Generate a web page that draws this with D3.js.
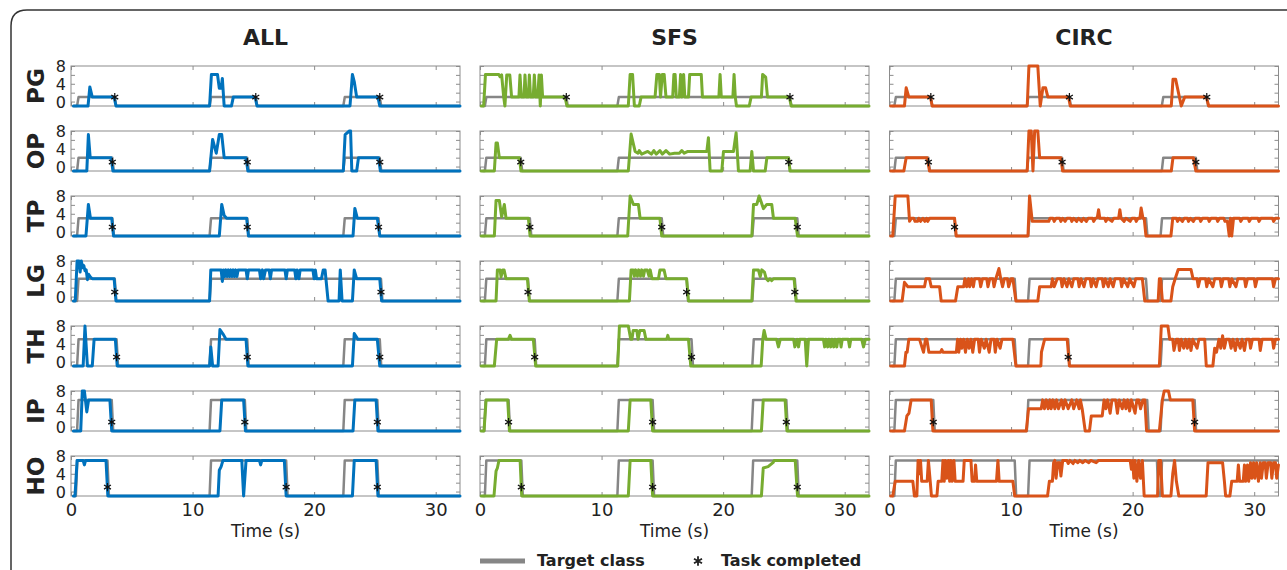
<!DOCTYPE html>
<html>
<head>
<meta charset="utf-8">
<script src="https://cdn.jsdelivr.net/npm/d3@7"></script>
<style>
  body { margin: 0; background: #fff; }
  svg { display: block; }
  text { font-family: "DejaVu Sans", Verdana, sans-serif; fill: #222; }
</style>
</head>
<body>
<div id="chart"></div>
<script>
// classes (rows), methods (columns)
var classes = ["PG", "OP", "TP", "LG", "TH", "IP", "HO"];
var targetLevels = [1, 2, 3, 4, 5, 6, 7];
var methods = ["ALL", "SFS", "CIRC"];
var timeTicks = [0, 10, 20, 30];
var yTicks = [0, 2, 4, 6, 8];
var yLabels = [0, 4, 8];
var restValue = -1;
var doneLevel = 1;

// target class "on" intervals (s), one list per class
var targetALL = [
  [[0.5, 3.6], [11.4, 15.2], [22.4, 25.4]],
  [[0.5, 3.4], [11.4, 14.5], [22.4, 25.4]],
  [[0.5, 3.4], [11.4, 14.5], [22.4, 25.3]],
  [[0.5, 3.6], [11.4, 25.5]],
  [[0.5, 3.75], [11.4, 14.5], [22.4, 25.4]],
  [[0.5, 3.35], [11.4, 14.3], [22.4, 25.2]],
  [[0.4, 3.0], [11.4, 17.7], [22.4, 25.2]]
];
var targetSFS = [
  [[0.4, 7.1], [11.3, 25.5]],
  [[0.4, 3.35], [11.3, 25.4]],
  [[0.4, 4.1], [11.3, 14.95], [22.4, 26.1]],
  [[0.4, 3.95], [11.3, 17.0], [22.4, 25.9]],
  [[0.4, 4.5], [11.3, 17.4], [22.4, 32]],
  [[0.35, 2.35], [11.3, 14.2], [22.35, 25.2]],
  [[0.4, 3.4], [11.3, 14.2], [22.35, 26.1]]
];
var targetCIRC = [
  [[0.4, 3.4], [11.3, 14.8], [22.4, 26.1]],
  [[0.4, 3.2], [11.3, 14.2], [22.4, 25.2]],
  [[0.4, 5.35], [11.4, 21.1], [22.3, 32]],
  [[0.4, 10.3], [11.4, 21.1], [22.3, 32]],
  [[0.4, 10.3], [11.4, 14.7], [22.3, 32]],
  [[0.4, 3.6], [11.3, 21.2], [22.3, 25.1]],
  [[0.4, 10.3], [11.4, 22.0], [22.3, 32]]
];

// task completed times (s)
var doneALL = [[3.6, 15.2, 25.4], [3.4, 14.5, 25.4], [3.4, 14.5, 25.3], [3.6, 25.5], [3.75, 14.5, 25.4], [3.35, 14.3, 25.2], [3.0, 17.7, 25.2]];
var doneSFS = [[7.1, 25.5], [3.35, 25.4], [4.1, 14.95, 26.1], [3.95, 17.0, 25.9], [4.5, 17.4], [2.35, 14.2, 25.2], [3.4, 14.2, 26.1]];
var doneCIRC = [[3.4, 14.8, 26.1], [3.2, 14.2, 25.2], [5.35], [], [14.7], [3.6, 25.1], []];

// predicted class, [time, class]
var allPG = [[0.2,-1],[1.4,-1],[1.55,3.3],[1.75,1],[3.55,1],[3.7,-1],[11.4,-1],[11.55,6.1],[12.05,6.1],[12.2,3],[12.35,3],[12.45,5.2],[12.6,-1],[13.2,-1],[13.35,1],[15.15,1],[15.3,-1],[22.95,-1],[23.15,6.1],[23.3,4.5],[23.5,1],[25.25,1],[25.4,-1],[32,-1]];
var allOP = [[0.2,-1],[1.3,-1],[1.43,7.2],[1.58,2],[3.3,2],[3.45,-1],[11.4,-1],[11.65,6.1],[11.95,3],[12.2,7.2],[12.4,7.2],[12.6,2],[14.4,2],[14.55,-1],[22.4,-1],[22.55,7.2],[22.9,8],[23.0,8],[23.1,-1],[23.5,-1],[23.65,2],[25.3,2],[25.45,-1],[32,-1]];
var allTP = [[0.2,-1],[1.23,-1],[1.43,6.1],[1.6,3],[3.35,3],[3.5,-1],[12.2,-1],[12.4,6.1],[12.6,3.6],[12.8,3],[14.45,3],[14.6,-1],[23.2,-1],[23.35,5.2],[23.55,3],[25.2,3],[25.4,-1],[32,-1]];
var allLG = [[0.2,-1],[0.35,-1],[0.5,8],[0.65,8],[0.75,5.5],[0.85,8],[0.95,6.5],[1.05,7],[1.15,5.8],[1.25,6],[1.35,3.8],[1.45,5],[1.6,4.4],[1.75,4],[3.55,4],[3.7,-1],[11.4,-1],[11.5,6],[12.35,6],[12.45,3.4],[12.55,6],[12.65,4.5],[12.75,6],[12.85,4.5],[12.95,6],[13.05,4.5],[13.15,6],[13.25,4.5],[13.35,6],[13.45,4.5],[13.55,6],[13.65,4.5],[13.75,6],[14.4,6],[14.5,4],[14.6,6],[15.5,6],[15.6,4],[15.75,6],[15.85,4],[16.0,6],[16.3,6],[16.4,4],[16.5,6],[17.6,6],[17.7,4],[17.8,6],[18.4,6],[18.5,4],[18.6,6],[18.75,4],[18.85,6],[19.9,6],[20.0,4],[20.1,6],[20.2,4],[20.6,4],[20.75,6],[20.9,6],[21.15,-1],[22.05,-1],[22.15,6],[22.3,-1],[23.15,-1],[23.3,6],[23.5,4],[25.4,4],[25.55,-1],[32,-1]];
var allTH = [[0.2,-1],[1.0,-1],[1.15,8],[1.35,-1],[1.75,-1],[1.9,5],[3.65,5],[3.8,-1],[11.4,-1],[11.5,3.3],[11.65,-1],[12.1,-1],[12.25,7.2],[12.55,6],[12.75,5],[14.4,5],[14.55,-1],[23.15,-1],[23.3,6.3],[23.6,5],[25.2,5],[25.4,-1],[32,-1]];
var allIP = [[0.2,-1],[0.8,-1],[0.93,8],[1.1,8],[1.3,3.3],[1.45,6],[3.2,6],[3.35,-1],[12.25,-1],[12.4,6],[14.2,6],[14.35,-1],[23.2,-1],[23.35,6],[25.1,6],[25.25,-1],[32,-1]];
var allHO = [[0.2,-1],[0.33,-1],[0.5,7],[1.0,7],[1.1,6],[1.2,7],[2.88,7],[3.03,-1],[12.1,-1],[12.2,4.8],[12.35,5.6],[12.5,7],[14.05,7],[14.2,-1],[14.4,7],[15.5,7],[15.6,6],[15.7,7],[17.55,7],[17.7,-1],[23.15,-1],[23.3,7],[25.1,7],[25.25,-1],[32,-1]];

var sfsPG = [[0.1,-1],[0.3,-1],[0.45,6.1],[1.55,6.1],[1.65,5.6],[1.78,6],[1.95,1],[2.05,-1],[2.2,6],[2.45,6],[2.6,1],[3.2,1],[3.29,6],[3.4,1],[3.62,1],[3.7,6],[3.8,1],[3.98,1],[4.06,6],[4.16,1],[4.38,1],[4.47,6],[4.57,1],[4.75,1],[4.86,6],[4.96,-1],[5.05,6],[5.15,1],[7.0,1],[7.15,-1],[12.2,-1],[12.35,6.1],[12.55,6.1],[12.7,-1],[13.1,-1],[13.25,1],[14.4,1],[14.55,6.1],[14.75,6.1],[14.85,1],[15.0,6.1],[15.15,6.1],[15.3,1],[15.85,1],[15.95,6.1],[16.05,6.1],[16.15,1],[16.4,1],[16.5,6.1],[16.6,1],[16.75,6.1],[16.85,1],[17.15,1],[17.25,6.1],[18.2,6.1],[18.3,1],[19.65,1],[19.75,6.1],[19.85,1],[20.8,1],[20.9,6.1],[21.0,1],[21.1,-1],[22.15,-1],[22.3,1],[23.15,1],[23.25,6.1],[23.5,5.5],[23.65,1],[25.45,1],[25.6,-1],[32,-1]];
var sfsOP = [[0.1,-1],[1.18,-1],[1.32,5.3],[1.43,5.3],[1.59,2],[3.24,2],[3.37,-1],[12.2,-1],[12.43,7.3],[12.76,3.4],[13.0,3],[13.1,3.6],[13.3,2.8],[13.8,3.4],[14.1,2.8],[14.3,3.6],[14.5,2.8],[14.8,3.6],[15.0,2.8],[15.3,3.6],[15.6,2.8],[16.0,3],[16.4,3],[16.6,3.6],[16.8,3],[17.1,3.4],[18.66,3.4],[18.79,6.5],[18.93,-1],[19.89,-1],[20.03,3.4],[20.85,3.4],[21.07,7.6],[21.26,-1],[22.22,-1],[22.36,3.4],[22.5,-1],[23.46,-1],[23.6,2],[25.38,2],[25.5,-1],[32,-1]];
var sfsTP = [[0.1,-1],[1.18,-1],[1.32,7],[1.59,7],[1.78,3.3],[2.0,6.1],[2.14,3],[3.98,3],[4.12,-1],[12.15,-1],[12.35,8],[12.62,6.1],[13.03,6.1],[13.17,3],[14.8,3],[14.95,-1],[22.36,-1],[22.5,6.1],[22.77,6.1],[22.96,8],[23.32,5.15],[23.59,6.1],[24.0,6.1],[24.14,3],[25.93,3],[26.12,-1],[32,-1]];
var sfsLG = [[0.1,-1],[1.32,-1],[1.43,6],[1.65,6],[1.73,4.4],[1.87,6],[1.98,6],[2.14,4],[3.9,4],[4.06,-1],[12.29,-1],[12.43,6],[12.6,6],[12.7,4.6],[12.8,6],[12.95,4.6],[13.05,6],[13.2,4.6],[13.3,6],[13.45,4.6],[13.55,6],[13.75,6],[13.9,4.6],[14.0,6],[14.15,4],[14.68,4],[14.8,6],[15.14,6],[15.3,4],[17.0,4],[17.15,-1],[22.36,-1],[22.5,6],[22.9,6],[23.05,4.5],[23.18,6],[23.4,5.5],[23.55,4],[23.7,3.6],[23.85,4],[24.0,3.6],[24.14,4],[25.84,4],[26.0,-1],[32,-1]];
var sfsTH = [[0.1,-1],[1.18,-1],[1.37,5],[2.33,5],[2.47,5.9],[2.6,5],[4.39,5],[4.58,-1],[11.33,-1],[11.47,8],[12.2,8],[12.4,5],[12.5,5],[12.6,7],[12.9,7],[13.0,5],[13.15,7],[13.5,7],[13.65,5],[15.36,5],[15.45,5.9],[15.53,5],[17.15,5],[17.34,-1],[23.13,-1],[23.26,5],[23.37,7],[23.54,5],[24.4,5],[24.55,3.3],[24.7,5],[25.8,5],[25.9,3.3],[26.1,5],[26.2,3.3],[26.3,5],[26.75,5],[26.88,-1],[27.02,5],[28.25,5],[28.35,3.3],[28.45,5],[28.6,3.3],[28.7,5],[28.85,3.3],[28.95,5],[29.1,3.3],[29.2,5],[29.35,3.3],[29.45,5],[29.63,5],[29.7,3.3],[29.8,5],[30.3,5],[30.4,3.3],[30.5,5],[31.4,5],[31.55,3.3],[31.7,5],[32,5]];
var sfsIP = [[0.1,-1],[0.33,-1],[0.5,6],[2.28,6],[2.42,-1],[12.2,-1],[12.35,6],[14.05,6],[14.2,-1],[23.15,-1],[23.3,6],[25.1,6],[25.25,-1],[32,-1]];
var sfsHO = [[0.1,-1],[1.15,-1],[1.32,4.6],[1.43,5.3],[1.56,7],[3.3,7],[3.43,-1],[12.2,-1],[12.35,7],[14.05,7],[14.2,-1],[23.15,-1],[23.3,5.3],[23.7,5.6],[24.1,6.5],[24.2,7],[25.93,7],[26.12,-1],[32,-1]];

var circPG = [[0.1,-1],[1.23,-1],[1.37,3.1],[1.59,1],[3.37,1],[3.51,-1],[11.33,-1],[11.47,8],[12.2,8],[12.4,-1],[12.62,3.1],[12.84,3.1],[13.03,1],[14.73,1],[14.87,-1],[23.18,-1],[23.32,5],[23.54,5],[24.0,-1],[24.28,1],[26.06,1],[26.26,-1],[32,-1]];
var circOP = [[0.1,-1],[1.18,-1],[1.37,2],[3.1,2],[3.29,-1],[11.33,-1],[11.47,8],[11.66,8],[11.8,-1],[11.94,8],[12.2,8],[12.35,2],[14.1,2],[14.24,-1],[23.18,-1],[23.32,2],[25.0,2],[25.2,-1],[32,-1]];
var circTP = [[0.1,-1],[0.27,-1],[0.47,8],[1.51,8],[1.65,2.3],[1.8,3],[2.0,3],[2.1,2.3],[2.3,2.3],[2.4,3],[2.55,2.3],[2.75,3],[2.9,2.3],[3.05,3],[3.15,2.3],[3.3,3],[5.35,3],[5.49,-1],[11.39,-1],[11.52,8],[11.74,2.3],[13.1,2.3],[13.2,3],[13.45,3],[13.55,2.3],[13.7,3],[14.0,3],[14.1,2.3],[14.25,3],[14.45,2.3],[14.6,3],[14.9,3],[15.0,2.3],[15.15,3],[15.4,2.3],[15.55,3],[15.8,2.3],[15.95,3],[16.2,2.3],[16.35,3],[16.7,3],[16.8,2.3],[16.95,3],[17.1,3.2],[17.2,4.9],[17.3,3],[17.7,3],[17.8,2.3],[17.95,3],[18.3,2.3],[18.45,3],[18.85,3],[18.95,4.9],[19.05,3],[19.3,2.3],[19.45,3],[19.8,2.3],[19.95,3],[20.2,3],[20.3,2.3],[20.45,3],[20.6,3],[20.7,5.3],[20.85,3],[20.95,3],[21.1,-1],[23.15,-1],[23.3,3],[23.6,3],[23.7,2.3],[23.85,3],[24.1,2.3],[24.25,3],[24.5,3],[24.6,2.3],[24.75,3],[25.0,2.3],[25.15,3],[25.5,3],[25.6,2.3],[25.75,3],[26.2,3],[26.3,2.3],[26.45,3],[26.9,3],[27.0,2.3],[27.15,3],[27.5,3],[27.6,2.3],[27.8,2.3],[27.95,-1],[28.05,3],[28.15,-1],[28.3,3],[28.8,3],[28.9,2.3],[29.05,3],[29.5,3],[29.6,2.3],[29.75,3],[30.3,3],[30.4,2.3],[30.55,3],[31.5,3],[31.6,2.3],[31.75,3],[32,3]];
var circLG = [[0.1,-1],[1.04,-1],[1.23,3.2],[1.51,2.2],[2.88,2.2],[3.0,4],[3.29,4],[3.43,2.2],[4.12,2.2],[4.25,-1],[5.43,-1],[5.62,2.2],[6.1,2.2],[6.2,4],[6.35,2.2],[6.5,4],[6.6,2.2],[6.75,4],[6.9,2.2],[7.0,4],[7.4,4],[7.5,2.2],[7.65,4],[8.0,4],[8.1,2.2],[8.25,4],[8.5,4],[8.6,2.2],[8.75,4],[9.0,6.3],[9.15,4],[9.3,2.2],[9.45,4],[9.7,4],[9.8,2.2],[10.0,4],[10.15,4],[10.4,-1],[12.2,-1],[12.35,2.2],[13.3,2.2],[13.4,4],[13.55,2.2],[13.8,4],[14.1,4],[14.2,2.2],[14.35,4],[14.6,2.2],[14.75,4],[15.0,2.2],[15.15,4],[15.5,4],[15.6,2.2],[15.75,4],[16.0,2.2],[16.15,4],[16.5,4],[16.6,2.2],[16.75,4],[17.0,2.2],[17.15,4],[17.5,4],[17.6,2.2],[17.75,4],[18.0,2.2],[18.15,4],[18.4,2.2],[18.55,4],[19.0,4],[19.1,2.2],[19.25,4],[19.6,2.2],[19.75,4],[20.1,2.2],[20.25,4],[20.8,4],[21.0,-1],[22.1,-1],[22.2,4],[22.3,4],[22.45,-1],[23.15,-1],[23.3,2.2],[23.5,4],[23.75,6.1],[24.8,6.1],[24.97,4],[25.3,4],[25.4,2.2],[25.55,4],[26.0,4],[26.1,2.2],[26.25,4],[26.6,2.2],[26.75,4],[27.2,4],[27.3,2.2],[27.45,4],[27.9,4],[28.0,2.2],[28.15,4],[28.5,2.2],[28.65,4],[29.2,4],[29.3,2.2],[29.45,4],[30.0,4],[30.1,2.2],[30.25,4],[31.5,4],[31.6,2.2],[31.75,4],[32,4]];
var circTH = [[0.1,-1],[1.23,-1],[1.35,2.1],[1.45,2.1],[1.59,5],[2.47,5],[2.8,2.1],[2.96,5],[3.07,5],[3.24,2.1],[4.2,2.1],[4.3,2.7],[4.4,2.1],[5.5,2.1],[5.6,5],[5.7,2.1],[5.85,5],[5.95,3],[6.1,5],[6.25,2.1],[6.4,5],[6.55,3],[6.7,5],[6.85,2.1],[7.0,5],[7.3,5],[7.4,2.1],[7.55,5],[7.8,3],[7.95,5],[8.2,2.1],[8.35,5],[8.6,5],[8.7,2.1],[8.85,5],[9.1,3],[9.25,5],[10.15,5],[10.4,-1],[12.45,-1],[12.5,2.1],[12.76,5],[14.62,5],[14.8,-1],[22.2,-1],[22.36,8],[22.9,8],[23.05,5],[23.3,5],[23.4,2.5],[23.6,5],[23.75,5],[23.85,2.5],[24.0,5],[24.2,3],[24.35,5],[24.5,3],[24.65,5],[24.8,2.5],[24.95,5],[25.3,3],[25.45,5],[25.93,5],[26.06,-1],[26.6,-1],[26.75,3],[26.9,2.1],[27.1,5],[27.25,3],[27.4,5.8],[27.55,3],[27.7,5],[27.95,5],[28.1,3],[28.25,5],[28.45,2.5],[28.6,5],[28.85,3],[29.0,5],[29.2,2.5],[29.35,5],[29.6,5],[29.7,3],[29.85,5],[30.4,5],[30.5,2.5],[30.65,5],[31.5,5],[31.6,3],[31.75,5],[32,5]];
var circIP = [[0.1,-1],[1.23,-1],[1.43,2.4],[1.6,3],[1.78,6],[3.43,6],[3.57,-1],[11.25,-1],[11.44,4],[12.48,4],[12.6,6],[12.75,4],[12.9,6],[13.05,4],[13.2,6],[13.3,4],[13.45,6],[13.6,4],[13.75,6],[13.9,4],[14.15,6],[14.3,4],[14.45,6],[14.7,4],[15.0,6],[15.15,4],[15.4,6],[15.6,4],[15.7,6],[15.85,4],[16.1,-1],[16.45,-1],[16.6,2.4],[17.5,2.4],[17.65,6],[17.8,4],[17.95,6],[18.15,3],[18.3,6],[18.6,6],[18.75,3],[18.9,6],[19.15,4],[19.3,6],[19.45,4],[19.6,6],[19.75,3.5],[19.9,6],[20.2,3],[20.35,6],[20.5,6],[20.65,4],[20.85,6],[21.0,6],[21.15,-1],[22.2,-1],[22.45,6],[22.6,8],[22.95,8],[23.1,6],[24.95,6],[25.1,-1],[32,-1]];
var circHO = [[0.1,-1],[0.27,-1],[0.47,2.3],[1.92,2.3],[2.05,-1],[2.25,-1],[2.35,7],[2.45,4],[2.55,7],[2.65,2.3],[3.1,2.3],[3.2,7],[3.35,2.3],[3.45,-1],[3.9,-1],[4.0,2.3],[4.3,2.3],[4.4,7],[4.5,2.3],[4.6,7],[4.7,3],[4.85,7],[4.95,2.3],[5.05,7],[5.15,2.3],[5.3,7],[5.4,2.3],[6.05,2.3],[6.15,7],[6.7,7],[6.8,2.3],[7.0,2.3],[7.08,6],[7.18,2.3],[8.8,2.3],[8.92,7],[9.02,2.3],[10.15,2.3],[10.3,-1],[13.0,-1],[13.15,2.3],[13.4,2.3],[13.5,6.5],[13.6,7],[13.7,3],[13.85,6.5],[14.0,6.5],[14.1,3.5],[14.25,7],[14.6,7],[14.7,6.3],[14.85,7],[15.1,6.3],[15.25,7],[15.5,6.5],[15.65,7],[15.9,6.5],[16.1,7],[16.4,6.5],[16.55,7],[17.0,6.5],[17.2,7],[19.8,7],[19.9,5],[20.0,7],[20.1,3],[20.2,7],[20.35,2.3],[20.5,7],[20.65,3],[20.8,7],[20.95,-1],[22.05,-1],[22.15,7],[22.3,7],[22.45,-1],[23.15,-1],[23.3,4],[23.45,7],[23.6,2.3],[23.8,-1],[26.05,-1],[26.2,6.5],[27.4,6.5],[27.55,2.3],[27.65,-1],[28.0,-1],[28.15,2.3],[28.6,2.3],[28.7,6],[28.8,2.3],[29.1,2.3],[29.2,6],[29.3,2.3],[29.45,6],[29.55,2.3],[29.7,6.5],[29.8,3],[29.95,6.5],[30.05,3],[30.2,6.5],[30.35,2.3],[30.5,6.5],[30.6,3],[30.75,6.5],[30.9,6.5],[31.0,3],[31.15,6.5],[31.35,6.5],[31.45,3],[31.6,6.5],[31.75,6.5],[31.85,3],[32,6]];

var predictions = [
  [allPG, allOP, allTP, allLG, allTH, allIP, allHO],
  [sfsPG, sfsOP, sfsTP, sfsLG, sfsTH, sfsIP, sfsHO],
  [circPG, circOP, circTP, circLG, circTH, circIP, circHO]
];
var targets = [targetALL, targetSFS, targetCIRC];
var done = [doneALL, doneSFS, doneCIRC];
var colors = ["#0072BD", "#77AC30", "#D95319"];

// layout
var W = 1287, H = 570;
var colLeft = [71, 480, 889.5];
var panelW = 389, panelH = 40;
var rowTop0 = 66, rowStep = 65;

var svg = d3.select("#chart").append("svg")
  .attr("width", W)
  .attr("height", H);

// outer frame with rounded corner
svg.append("path")
  .attr("d", "M11,575 L11,26 Q11,10 27,10 L1295,10")
  .attr("fill", "none")
  .attr("stroke", "#333")
  .attr("stroke-width", 1.5);

var y = d3.scaleLinear().domain([-1, 8]);

methods.forEach(function(m, ci) {
  var x = d3.scaleLinear().domain([0, 32]).range([colLeft[ci], colLeft[ci] + panelW]);

  svg.append("text")
    .attr("x", colLeft[ci] + panelW / 2)
    .attr("y", 45)
    .attr("text-anchor", "middle")
    .style("font-size", "22px")
    .style("font-weight", "bold")
    .text(m);

  classes.forEach(function(c, ri) {
    var top = rowTop0 + ri * rowStep;
    y.range([top + panelH, top]);
    var g = svg.append("g");

    // box
    g.append("rect")
      .attr("x", x(0)).attr("y", top)
      .attr("width", panelW).attr("height", panelH)
      .attr("fill", "none").attr("stroke", "#8c8c8c").attr("stroke-width", 1);

    // ticks
    var isLast = ri === classes.length - 1;
    var axB = g.append("g").attr("transform", "translate(0," + (top + panelH) + ")")
      .call(d3.axisBottom(x).tickValues(timeTicks).tickSizeInner(-4).tickSizeOuter(0).tickPadding(6)
        .tickFormat(isLast ? d3.format("d") : function() { return ""; }));
    var axT = g.append("g").attr("transform", "translate(0," + top + ")")
      .call(d3.axisTop(x).tickValues(timeTicks).tickSizeInner(-4).tickSizeOuter(0).tickFormat(""));
    var axL = g.append("g").attr("transform", "translate(" + x(0) + ",0)")
      .call(d3.axisLeft(y).tickValues(yTicks).tickSizeInner(-4).tickSizeOuter(0).tickPadding(5)
        .tickFormat(function(d) { return (ci === 0 && yLabels.indexOf(d) >= 0) ? d : ""; }));
    var axR = g.append("g").attr("transform", "translate(" + x(32) + ",0)")
      .call(d3.axisRight(y).tickValues(yTicks).tickSizeInner(-4).tickSizeOuter(0).tickFormat(""));
    [axB, axT, axL, axR].forEach(function(a) {
      a.select(".domain").remove();
      a.selectAll("line").attr("stroke", "#8c8c8c");
      a.selectAll("text").attr("fill", "#222").style("font-size", "18px")
        .style("font-family", "'DejaVu Sans', Verdana, sans-serif");
    });
    axL.selectAll("text").style("font-size", "16px").attr("dy", "0.36em");
    if (isLast) axB.selectAll("text").attr("dy", "0.75em");

    // row label
    if (ci === 0) {
      svg.append("text")
        .attr("transform", "translate(44," + (top + panelH / 2) + ") rotate(-90)")
        .attr("text-anchor", "middle")
        .style("font-size", "23px")
        .style("font-weight", "bold")
        .text(c);
    }

    var line = d3.line().x(function(d) { return x(d[0]); }).y(function(d) { return y(d[1]); });

    // target class (gray step)
    var lvl = targetLevels[ri];
    var tpts = [[0.2, restValue]];
    targets[ci][ri].forEach(function(iv) {
      tpts.push([iv[0], restValue], [iv[0] + 0.12, lvl], [iv[1], lvl]);
      if (iv[1] < 32) tpts.push([iv[1] + 0.12, restValue]);
    });
    if (tpts[tpts.length - 1][0] < 32) tpts.push([32, restValue]);
    g.append("path").datum(tpts).attr("d", line)
      .attr("fill", "none").attr("stroke", "#868686").attr("stroke-width", 2.5)
      .attr("stroke-linejoin", "round");

    // predicted class
    g.append("path").datum(predictions[ci][ri]).attr("d", line)
      .attr("fill", "none").attr("stroke", colors[ci]).attr("stroke-width", 3)
      .attr("stroke-linejoin", "round").attr("stroke-linecap", "round");

    // task completed markers
    g.selectAll(".done").data(done[ci][ri]).enter().append("path")
      .attr("transform", function(d) { return "translate(" + x(d) + "," + y(doneLevel) + ")"; })
      .attr("d", d3.symbol().type(d3.symbolAsterisk).size(45))
      .attr("fill", "none").attr("stroke", "#111").attr("stroke-width", 1.2);
  });

  svg.append("text")
    .attr("x", colLeft[ci] + panelW / 2)
    .attr("y", 537)
    .attr("text-anchor", "middle")
    .style("font-size", "17px")
    .text("Time (s)");
});

// legend
var lg = svg.append("g");
lg.append("line").attr("x1", 480).attr("x2", 525).attr("y1", 561).attr("y2", 561)
  .attr("stroke", "#868686").attr("stroke-width", 5);
lg.append("text").attr("x", 537).attr("y", 566).style("font-size", "16px").style("font-weight", "bold")
  .text("Target class");
lg.append("path").attr("transform", "translate(698,561)")
  .attr("d", d3.symbol().type(d3.symbolAsterisk).size(60))
  .attr("fill", "none").attr("stroke", "#222").attr("stroke-width", 1.8);
lg.append("text").attr("x", 721).attr("y", 566).style("font-size", "16px").style("font-weight", "bold")
  .text("Task completed");
</script>
</body>
</html>
